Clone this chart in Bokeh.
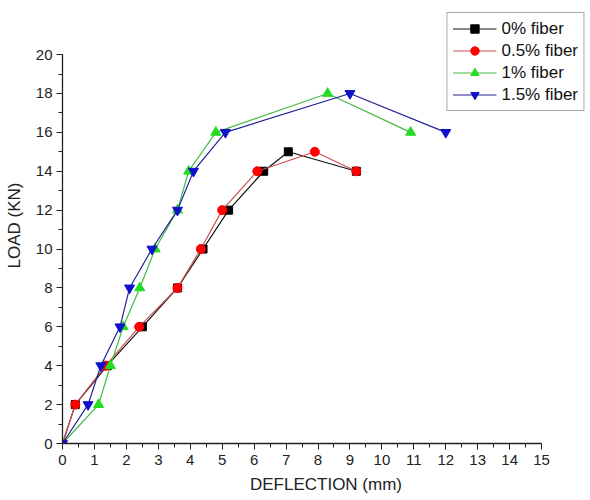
from bokeh.plotting import figure
from bokeh.models import Range1d, SingleIntervalTicker, Legend, LegendItem
from bokeh.embed import file_html
from bokeh.resources import INLINE

# Data
x_0 = [0, 0.4, 1.4, 2.5, 3.6, 4.4, 5.2, 6.3, 7.07, 9.2]
y_0 = [0, 2, 4, 6, 8, 10, 12, 14, 15, 14]

x_05 = [0, 0.4, 1.35, 2.4, 3.6, 4.33, 5.0, 6.1, 7.9, 9.2]
y_05 = [0, 2, 4, 6, 8, 10, 12, 14, 15, 14]

x_1 = [0, 1.13, 1.5, 1.9, 2.42, 2.9, 3.6, 3.95, 4.8, 8.3, 10.9]
y_1 = [0, 2, 4, 6, 8, 10, 12, 14, 16, 18, 16]

x_15 = [0, 0.8, 1.2, 1.8, 2.1, 2.8, 3.6, 4.1, 5.1, 9.0, 12.0]
y_15 = [0, 2, 4, 6, 8, 10, 12, 14, 16, 18, 16]

labels = ["0% fiber", "0.5% fiber", "1% fiber", "1.5% fiber"]
x_title = "DEFLECTION (mm)"
y_title = "LOAD (KN)"

FONT = "Liberation Sans"

p = figure(width=590, height=500, output_backend="svg", toolbar_location=None,
           x_range=Range1d(0, 16.50), y_range=Range1d(0, 22.42),
           min_border_left=62, min_border_right=1, min_border_top=7, min_border_bottom=57)
p.outline_line_color = None
p.xgrid.visible = False
p.ygrid.visible = False
p.background_fill_color = "white"
p.border_fill_color = "white"

series = [
    (x_0, y_0, "#111111", "#000000", "square", 8),
    (x_05, y_05, "#d05050", "#ff0000", "circle", 9),
    (x_1, y_1, "#44bb44", "#22dd22", "triangle", 10),
    (x_15, y_15, "#222299", "#1010cc", "inverted_triangle", 10),
]

items = []
for (xs, ys, lc, mc, mk, sz), lab in zip(series, labels):
    r1 = p.line(xs, ys, line_color=lc, line_width=1.2)
    r2 = p.scatter(xs, ys, marker=mk, size=sz, fill_color=mc, line_color=mc)
    items.append(LegendItem(label=lab, renderers=[r1, r2]))

legend = Legend(items=items, location="top_right")
legend.margin = 5
legend.padding = 5
legend.spacing = 1
legend.glyph_width = 44
legend.glyph_height = 21
legend.label_height = 21
legend.label_standoff = 5
legend.label_text_font = FONT
legend.label_text_font_size = "17px"
legend.label_text_color = "#111111"
legend.border_line_color = "#555555"
legend.border_line_width = 1.5
legend.background_fill_color = "white"
p.add_layout(legend)

p.xaxis.ticker = SingleIntervalTicker(interval=1, num_minor_ticks=2)
p.yaxis.ticker = SingleIntervalTicker(interval=2, num_minor_ticks=2)
p.xaxis.bounds = (0, 15)
p.yaxis.bounds = (0, 20)

for ax in (p.xaxis, p.yaxis):
    ax.axis_line_color = "#222222"
    ax.axis_line_width = 1.3
    ax.major_tick_line_color = "#222222"
    ax.minor_tick_line_color = "#222222"
    ax.major_tick_in = 0
    ax.major_tick_out = 6
    ax.minor_tick_in = 0
    ax.minor_tick_out = 4
    ax.major_label_text_font = FONT
    ax.major_label_text_font_size = "15px"
    ax.major_label_text_color = "#222222"
    ax.axis_label_text_font = FONT
    ax.axis_label_text_font_size = "17px"
    ax.axis_label_text_font_style = "normal"
    ax.axis_label_text_color = "#222222"

p.xaxis.axis_label = x_title
p.yaxis.axis_label = y_title
p.xaxis.major_label_standoff = 5
p.yaxis.major_label_standoff = 4
p.xaxis.axis_label_standoff = 7
p.yaxis.axis_label_standoff = 9

open("out.html", "w").write(file_html(p, INLINE))
